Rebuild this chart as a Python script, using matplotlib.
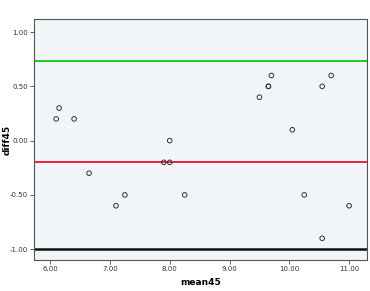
import matplotlib
matplotlib.use("Agg")
import matplotlib.pyplot as plt

mean45 = [6.10, 6.15, 6.40, 6.65, 7.10, 7.25, 7.90, 8.00, 8.00, 8.25,
          9.50, 9.65, 9.65, 9.70, 10.05, 10.25, 10.55, 10.55, 10.70, 11.00]
diff45 = [0.20, 0.30, 0.20, -0.30, -0.60, -0.50, -0.20, -0.20, 0.00, -0.50,
          0.40, 0.50, 0.50, 0.60, 0.10, -0.50, -0.90, 0.50, 0.60, -0.60]
upper_loa = 0.73
mean_diff = -0.20
ref_line = -1.00
xticks = [6.0, 7.0, 8.0, 9.0, 10.0, 11.0]
yticks = [1.0, 0.5, 0.0, -0.5, -1.0]

fig = plt.figure(figsize=(3.70, 2.91), dpi=100)
ax = fig.add_axes([0.092, 0.1065, 0.900, 0.828])
ax.set_facecolor("#F2F5F8")

ax.axhline(upper_loa, color="#22CC22", lw=1.4, zorder=2)
ax.axhline(mean_diff, color="#EE2244", lw=1.4, zorder=2)
ax.axhline(ref_line, color="#111111", lw=1.8, zorder=2)

ax.scatter(mean45, diff45, s=11, facecolors="none", edgecolors="#333333",
           linewidths=0.7, zorder=3)

ax.set_xlim(5.73, 11.3)
ax.set_ylim(-1.10, 1.12)
ax.set_xticks(xticks)
ax.set_yticks(yticks)
ax.set_xticklabels([f"{v:.2f}" for v in xticks])
ax.set_yticklabels([f"{v:.2f}" for v in yticks])
ax.tick_params(labelsize=5, length=3, width=0.6, color="#444444",
               labelcolor="#333333", pad=1.5)
for sp in ax.spines.values():
    sp.set_color("#555555")
    sp.set_linewidth(0.8)

ax.set_xlabel("mean45", fontsize=6.5, fontweight="bold", labelpad=4)
ax.set_ylabel("diff45", fontsize=6.5, fontweight="bold")
ax.yaxis.set_label_coords(-0.068, 0.5)

fig.savefig("out.png", dpi=100)
